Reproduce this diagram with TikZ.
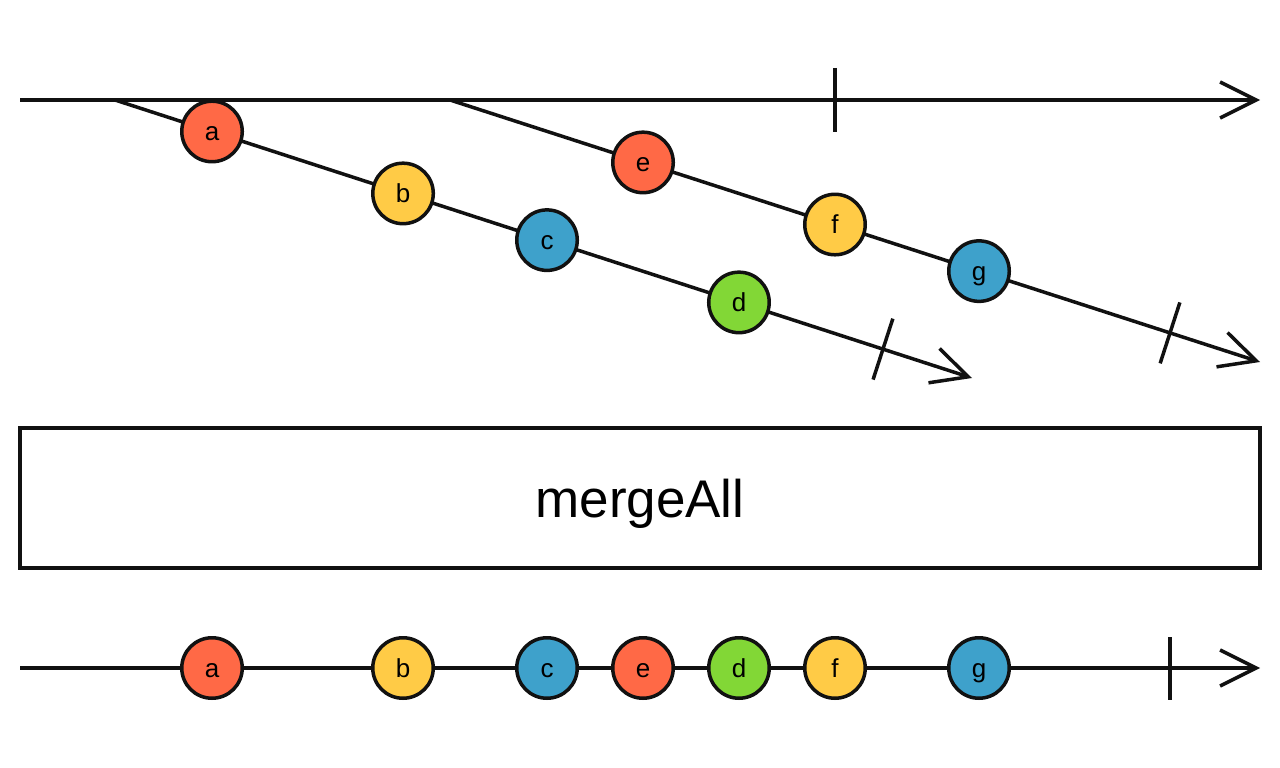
\documentclass[tikz,border=0pt]{standalone}
\usepackage{fontspec}
\setmainfont{Liberation Sans}
\usetikzlibrary{positioning, calc, arrows.meta}

\definecolor{inkBlack}{RGB}{17,17,17}
\definecolor{marbleRed}{RGB}{255,105,70}
\definecolor{marbleYellow}{RGB}{255,203,70}
\definecolor{marbleBlue}{RGB}{62,161,203}
\definecolor{marbleGreen}{RGB}{130,215,54}

\tikzset{
	timeline/.style={draw=inkBlack, line width=3.5pt, -{Straight Barb[length=36pt, width=36pt]}},
	stopmark/.style={draw=inkBlack, line width=3.5pt},
	marble/.style={circle, draw=inkBlack, line width=3.5pt, minimum size=60.5pt, inner sep=0pt,
		text height=18pt, text depth=0pt, font=\fontsize{26}{26}\selectfont},
	opbox/.style={draw=inkBlack, line width=3.5pt, minimum width=1240pt, minimum height=140pt,
		inner sep=0pt, text depth=0pt, font=\fontsize{53}{53}\selectfont},
}

\begin{document}
\begin{tikzpicture}[x=1pt, y=-1pt]
	\useasboundingbox (0, 0) rectangle (1280, 768);
	% outer stream
	\coordinate (top0) at (20, 100);
	\coordinate (top1) at (1260, 100);
	\draw[timeline] (top0) -- (top1);
	\draw[stopmark] (835, 68) -- (835, 132);
	% first inner stream
	\coordinate (s1) at (115, 100);
	\coordinate (e1) at (972, 378);
	\coordinate (k1) at ($(s1)!0.8961!(e1)$);
	\draw[timeline] (s1) -- (e1);
	\draw[stopmark] ($(k1)!32pt!90:(e1)$) -- ($(k1)!32pt!-90:(e1)$);
	% second inner stream
	\coordinate (s2) at (450, 100);
	\coordinate (e2) at (1260, 362);
	\coordinate (k2) at ($(s2)!0.8889!(e2)$);
	\draw[timeline] (s2) -- (e2);
	\draw[stopmark] ($(k2)!32pt!90:(e2)$) -- ($(k2)!32pt!-90:(e2)$);
	% marbles of the inner streams
	\node[marble, fill=marbleRed] (a1) at ($(s1)!0.1132!(e1)$) {a};
	\node[marble, fill=marbleYellow] (b1) at ($(s1)!0.3361!(e1)$) {b};
	\node[marble, fill=marbleBlue] (c1) at ($(s1)!0.5041!(e1)$) {c};
	\node[marble, fill=marbleGreen] (d1) at ($(s1)!0.7281!(e1)$) {d};
	\node[marble, fill=marbleRed] (e2m) at ($(s2)!0.2383!(e2)$) {e};
	\node[marble, fill=marbleYellow] (f2) at ($(s2)!0.4753!(e2)$) {f};
	\node[marble, fill=marbleBlue] (g2) at ($(s2)!0.6531!(e2)$) {g};
	% operator
	\node[opbox] (op) at (640, 498) {mergeAll};
	% result stream
	\coordinate (out0) at (20, 668);
	\coordinate (out1) at (1260, 668);
	\draw[timeline] (out0) -- (out1);
	\draw[stopmark] (1170, 637) -- (1170, 700);
	\node[marble, fill=marbleRed] (a3) at (212, 668) {a};
	\node[marble, fill=marbleYellow] (b3) at (403, 668) {b};
	\node[marble, fill=marbleBlue] (c3) at (547, 668) {c};
	\node[marble, fill=marbleRed] (e3) at (643, 668) {e};
	\node[marble, fill=marbleGreen] (d3) at (739, 668) {d};
	\node[marble, fill=marbleYellow] (f3) at (835, 668) {f};
	\node[marble, fill=marbleBlue] (g3) at (979, 668) {g};
\end{tikzpicture}
\end{document}
